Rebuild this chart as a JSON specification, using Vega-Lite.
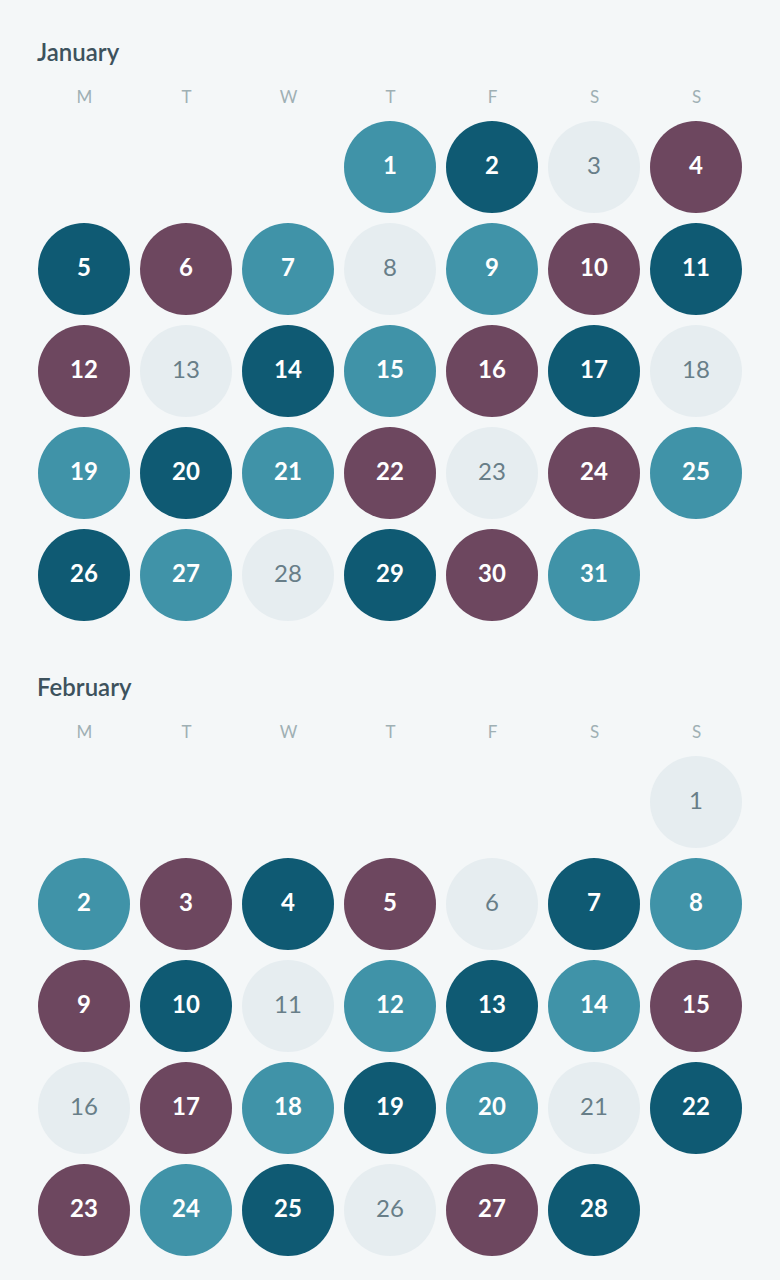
{
  "$schema": "https://vega.github.io/schema/vega-lite/v6.json",
  "background": "#f4f7f8",
  "padding": {"left": 0, "right": 0, "top": 42, "bottom": 22},
  "config": {"view": {"stroke": null}, "font": "Lato"},
  "spacing": 51,
  "data": {"values": [
    {"month": "January", "day": 1, "weekday": 3, "week": 0, "level": "light"},
    {"month": "January", "day": 2, "weekday": 4, "week": 0, "level": "dark"},
    {"month": "January", "day": 3, "weekday": 5, "week": 0, "level": "none"},
    {"month": "January", "day": 4, "weekday": 6, "week": 0, "level": "purple"},
    {"month": "January", "day": 5, "weekday": 0, "week": 1, "level": "dark"},
    {"month": "January", "day": 6, "weekday": 1, "week": 1, "level": "purple"},
    {"month": "January", "day": 7, "weekday": 2, "week": 1, "level": "light"},
    {"month": "January", "day": 8, "weekday": 3, "week": 1, "level": "none"},
    {"month": "January", "day": 9, "weekday": 4, "week": 1, "level": "light"},
    {"month": "January", "day": 10, "weekday": 5, "week": 1, "level": "purple"},
    {"month": "January", "day": 11, "weekday": 6, "week": 1, "level": "dark"},
    {"month": "January", "day": 12, "weekday": 0, "week": 2, "level": "purple"},
    {"month": "January", "day": 13, "weekday": 1, "week": 2, "level": "none"},
    {"month": "January", "day": 14, "weekday": 2, "week": 2, "level": "dark"},
    {"month": "January", "day": 15, "weekday": 3, "week": 2, "level": "light"},
    {"month": "January", "day": 16, "weekday": 4, "week": 2, "level": "purple"},
    {"month": "January", "day": 17, "weekday": 5, "week": 2, "level": "dark"},
    {"month": "January", "day": 18, "weekday": 6, "week": 2, "level": "none"},
    {"month": "January", "day": 19, "weekday": 0, "week": 3, "level": "light"},
    {"month": "January", "day": 20, "weekday": 1, "week": 3, "level": "dark"},
    {"month": "January", "day": 21, "weekday": 2, "week": 3, "level": "light"},
    {"month": "January", "day": 22, "weekday": 3, "week": 3, "level": "purple"},
    {"month": "January", "day": 23, "weekday": 4, "week": 3, "level": "none"},
    {"month": "January", "day": 24, "weekday": 5, "week": 3, "level": "purple"},
    {"month": "January", "day": 25, "weekday": 6, "week": 3, "level": "light"},
    {"month": "January", "day": 26, "weekday": 0, "week": 4, "level": "dark"},
    {"month": "January", "day": 27, "weekday": 1, "week": 4, "level": "light"},
    {"month": "January", "day": 28, "weekday": 2, "week": 4, "level": "none"},
    {"month": "January", "day": 29, "weekday": 3, "week": 4, "level": "dark"},
    {"month": "January", "day": 30, "weekday": 4, "week": 4, "level": "purple"},
    {"month": "January", "day": 31, "weekday": 5, "week": 4, "level": "light"},
    {"month": "February", "day": 1, "weekday": 6, "week": 0, "level": "none"},
    {"month": "February", "day": 2, "weekday": 0, "week": 1, "level": "light"},
    {"month": "February", "day": 3, "weekday": 1, "week": 1, "level": "purple"},
    {"month": "February", "day": 4, "weekday": 2, "week": 1, "level": "dark"},
    {"month": "February", "day": 5, "weekday": 3, "week": 1, "level": "purple"},
    {"month": "February", "day": 6, "weekday": 4, "week": 1, "level": "none"},
    {"month": "February", "day": 7, "weekday": 5, "week": 1, "level": "dark"},
    {"month": "February", "day": 8, "weekday": 6, "week": 1, "level": "light"},
    {"month": "February", "day": 9, "weekday": 0, "week": 2, "level": "purple"},
    {"month": "February", "day": 10, "weekday": 1, "week": 2, "level": "dark"},
    {"month": "February", "day": 11, "weekday": 2, "week": 2, "level": "none"},
    {"month": "February", "day": 12, "weekday": 3, "week": 2, "level": "light"},
    {"month": "February", "day": 13, "weekday": 4, "week": 2, "level": "dark"},
    {"month": "February", "day": 14, "weekday": 5, "week": 2, "level": "light"},
    {"month": "February", "day": 15, "weekday": 6, "week": 2, "level": "purple"},
    {"month": "February", "day": 16, "weekday": 0, "week": 3, "level": "none"},
    {"month": "February", "day": 17, "weekday": 1, "week": 3, "level": "purple"},
    {"month": "February", "day": 18, "weekday": 2, "week": 3, "level": "light"},
    {"month": "February", "day": 19, "weekday": 3, "week": 3, "level": "dark"},
    {"month": "February", "day": 20, "weekday": 4, "week": 3, "level": "light"},
    {"month": "February", "day": 21, "weekday": 5, "week": 3, "level": "none"},
    {"month": "February", "day": 22, "weekday": 6, "week": 3, "level": "dark"},
    {"month": "February", "day": 23, "weekday": 0, "week": 4, "level": "purple"},
    {"month": "February", "day": 24, "weekday": 1, "week": 4, "level": "light"},
    {"month": "February", "day": 25, "weekday": 2, "week": 4, "level": "dark"},
    {"month": "February", "day": 26, "weekday": 3, "week": 4, "level": "none"},
    {"month": "February", "day": 27, "weekday": 4, "week": 4, "level": "purple"},
    {"month": "February", "day": 28, "weekday": 5, "week": 4, "level": "dark"}
  ]},
  "vconcat": [
    {
      "title": {"text": "January", "anchor": "start", "dx": 37, "fontSize": 24, "fontWeight": 600, "color": "#3d525d", "offset": 22, "limit": 0},
      "width": 780,
      "height": 510,
      "transform": [{"filter": "datum.month == 'January'"}],
      "encoding": {
        "x": {"field": "weekday", "type": "quantitative", "scale": {"domain": [-0.8235294, 6.8235294], "nice": false, "zero": false},
          "axis": {"orient": "top", "values": [0, 1, 2, 3, 4, 5, 6], "labelExpr": "['M','T','W','T','F','S','S'][datum.value]", "domain": false, "ticks": false, "grid": false, "title": null, "labelFontSize": 17, "labelColor": "#9fb0b4", "labelPadding": 10, "labelFlush": false, "labelFont": "Lato"}},
        "y": {"field": "week", "type": "quantitative", "scale": {"domain": [-0.5, 4.5], "reverse": true, "nice": false, "zero": false}, "axis": null}
      },
      "layer": [
        {"mark": {"type": "circle", "size": 8464, "opacity": 1},
          "encoding": {"color": {"field": "level", "type": "nominal", "legend": null,
            "scale": {"domain": ["none", "light", "dark", "purple"], "range": ["#e6edf0", "#4093a8", "#0f5a73", "#6d475f"]}}}},
        {"transform": [{"filter": "datum.level != 'none'"}],
          "mark": {"type": "text", "fontSize": 24, "fontWeight": "bold", "color": "#ffffff", "baseline": "middle", "align": "center"},
          "encoding": {"text": {"field": "day", "type": "quantitative"}}},
        {"transform": [{"filter": "datum.level == 'none'"}],
          "mark": {"type": "text", "fontSize": 24, "fontWeight": "normal", "color": "#687e88", "baseline": "middle", "align": "center"},
          "encoding": {"text": {"field": "day", "type": "quantitative"}}}
      ]
    },
    {
      "title": {"text": "February", "anchor": "start", "dx": 37, "fontSize": 24, "fontWeight": 600, "color": "#3d525d", "offset": 22, "limit": 0},
      "width": 780,
      "height": 510,
      "transform": [{"filter": "datum.month == 'February'"}],
      "encoding": {
        "x": {"field": "weekday", "type": "quantitative", "scale": {"domain": [-0.8235294, 6.8235294], "nice": false, "zero": false},
          "axis": {"orient": "top", "values": [0, 1, 2, 3, 4, 5, 6], "labelExpr": "['M','T','W','T','F','S','S'][datum.value]", "domain": false, "ticks": false, "grid": false, "title": null, "labelFontSize": 17, "labelColor": "#9fb0b4", "labelPadding": 10, "labelFlush": false, "labelFont": "Lato"}},
        "y": {"field": "week", "type": "quantitative", "scale": {"domain": [-0.5, 4.5], "reverse": true, "nice": false, "zero": false}, "axis": null}
      },
      "layer": [
        {"mark": {"type": "circle", "size": 8464, "opacity": 1},
          "encoding": {"color": {"field": "level", "type": "nominal", "legend": null,
            "scale": {"domain": ["none", "light", "dark", "purple"], "range": ["#e6edf0", "#4093a8", "#0f5a73", "#6d475f"]}}}},
        {"transform": [{"filter": "datum.level != 'none'"}],
          "mark": {"type": "text", "fontSize": 24, "fontWeight": "bold", "color": "#ffffff", "baseline": "middle", "align": "center"},
          "encoding": {"text": {"field": "day", "type": "quantitative"}}},
        {"transform": [{"filter": "datum.level == 'none'"}],
          "mark": {"type": "text", "fontSize": 24, "fontWeight": "normal", "color": "#687e88", "baseline": "middle", "align": "center"},
          "encoding": {"text": {"field": "day", "type": "quantitative"}}}
      ]
    }
  ]
}
